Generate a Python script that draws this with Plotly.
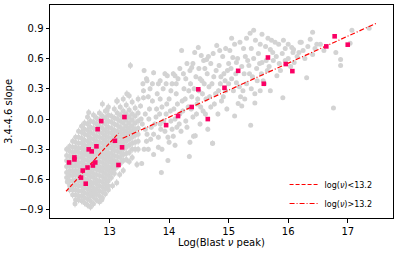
import plotly.graph_objects as go

# ---------------- data ----------------
# dense cloud at low peak frequency: (x, [y values]) columns
dense_cols = [
    (12.28, [-0.30, -0.36, -0.41, -0.47, -0.53, -0.58]),
    (12.33, [-0.27, -0.32, -0.37, -0.42, -0.46, -0.51, -0.56, -0.61, -0.66, -0.70]),
    (12.38, [-0.22, -0.28, -0.33, -0.38, -0.42, -0.47, -0.52, -0.56, -0.61, -0.66, -0.70, -0.75]),
    (12.43, [-0.18, -0.23, -0.28, -0.32, -0.37, -0.42, -0.46, -0.51, -0.55, -0.60, -0.65, -0.70, -0.75, -0.80]),
    (12.48, [-0.12, -0.18, -0.24, -0.29, -0.33, -0.38, -0.43, -0.47, -0.52, -0.56, -0.61, -0.66, -0.71, -0.76, -0.80]),
    (12.53, [-0.07, -0.13, -0.19, -0.24, -0.29, -0.34, -0.38, -0.43, -0.48, -0.52, -0.57, -0.62, -0.66, -0.71, -0.76, -0.81]),
    (12.58, [-0.04, -0.10, -0.15, -0.21, -0.26, -0.31, -0.35, -0.40, -0.45, -0.49, -0.54, -0.59, -0.63, -0.68, -0.73, -0.78, -0.83]),
    (12.63, [0.02, -0.05, -0.11, -0.16, -0.22, -0.27, -0.32, -0.36, -0.41, -0.46, -0.50, -0.55, -0.60, -0.64, -0.69, -0.74, -0.79, -0.85]),
    (12.68, [-0.02, -0.08, -0.13, -0.19, -0.24, -0.29, -0.34, -0.38, -0.43, -0.48, -0.52, -0.57, -0.62, -0.66, -0.71, -0.76, -0.81, -0.87]),
    (12.73, [0.04, -0.03, -0.09, -0.15, -0.20, -0.25, -0.30, -0.35, -0.40, -0.44, -0.49, -0.54, -0.58, -0.63, -0.68, -0.72, -0.77, -0.84]),
    (12.78, [0.01, -0.05, -0.11, -0.17, -0.22, -0.27, -0.32, -0.36, -0.41, -0.46, -0.50, -0.55, -0.60, -0.64, -0.69, -0.74, -0.80]),
    (12.83, [0.06, -0.01, -0.07, -0.13, -0.18, -0.23, -0.28, -0.33, -0.37, -0.42, -0.47, -0.51, -0.56, -0.61, -0.66, -0.71, -0.76, -0.82]),
    (12.88, [0.15, 0.03, -0.03, -0.09, -0.14, -0.19, -0.24, -0.29, -0.34, -0.38, -0.43, -0.48, -0.52, -0.57, -0.62, -0.67, -0.72, -0.78]),
    (12.93, [0.08, 0.01, -0.05, -0.11, -0.16, -0.21, -0.26, -0.31, -0.35, -0.40, -0.45, -0.49, -0.54, -0.59, -0.64, -0.69, -0.74]),
    (12.98, [0.12, 0.04, -0.02, -0.08, -0.13, -0.18, -0.23, -0.28, -0.33, -0.37, -0.42, -0.47, -0.51, -0.56, -0.61, -0.66, -0.70]),
    (13.03, [0.03, -0.03, -0.09, -0.14, -0.19, -0.24, -0.29, -0.34, -0.39, -0.43, -0.48, -0.53, -0.58]),
    (13.08, [0.10, 0.01, -0.05, -0.11, -0.16, -0.21, -0.26, -0.31, -0.36, -0.41, -0.45, -0.50, -0.54]),
    (13.13, [0.18, 0.06, 0.00, -0.06, -0.12, -0.17, -0.22, -0.27, -0.32, -0.37, -0.42, -0.47]),
    (13.18, [0.12, 0.04, -0.02, -0.08, -0.13, -0.18, -0.23, -0.28, -0.33, -0.38, -0.44]),
    (13.23, [0.20, 0.08, 0.02, -0.04, -0.10, -0.15, -0.20, -0.25, -0.30, -0.35, -0.41]),
    (13.28, [0.14, 0.05, -0.01, -0.07, -0.12, -0.17, -0.22, -0.28, -0.34, -0.40]),
    (13.33, [0.23, 0.09, 0.02, -0.04, -0.09, -0.14, -0.20, -0.26, -0.33, -0.42]),
    (13.38, [0.17, 0.05, -0.01, -0.07, -0.12, -0.18, -0.24, -0.30, -0.38]),
    (13.43, [0.11, 0.03, -0.04, -0.10, -0.16, -0.23, -0.30]),
    (13.48, [0.20, 0.06, -0.02, -0.09, -0.15, -0.22, -0.30]),
]
dense_extra = [(12.29, -0.62), (12.42, -0.84), (12.73, -0.74), (12.87, -0.80),
               (13.12, -0.63), (13.23, -0.51), (13.46, -0.45), (12.65, 0.065),
               (12.96, 0.09), (13.12, 0.18), (13.35, 0.53), (13.29, 0.25),
               (12.31, -0.53), (13.05, -0.66), (13.17, -0.55)]
dense_err = 0.035

mid_points = [
    (13.54, -0.44), (13.58, -0.30), (13.63, -0.15), (13.57, 0.28), (13.57, 0.21), (13.52, 0.13),
    (13.55, -0.05), (13.60, 0.05), (13.62, -0.22), (13.65, -0.30), (13.67, 0.10), (13.70, -0.08),
    (13.72, 0.18), (13.74, 0.46), (13.74, -0.15), (13.74, -0.35), (13.78, 0.02), (13.80, 0.25),
    (13.82, 0.35), (13.82, -0.18), (13.82, -0.28), (13.85, -0.05), (13.87, -0.53), (13.88, -0.30),
    (13.88, 0.12), (13.90, 0.30), (13.93, 0.45), (13.93, -0.12), (13.95, 0.05), (13.98, -0.18),
    (13.98, -0.41), (14.00, -0.23), (14.00, 0.20), (14.03, -0.02), (14.05, 0.35), (14.07, 0.45),
    (14.07, -0.17), (14.08, 0.10), (14.10, -0.26), (14.12, 0.25), (14.13, -0.08), (14.15, 0.40),
    (14.18, 0.05), (14.20, -0.12), (14.21, 0.68), (14.22, 0.18), (14.24, 0.45), (14.25, 0.30),
    (14.28, -0.02), (14.30, 0.55), (14.32, 0.12), (14.34, -0.37), (14.35, -0.23), (14.36, 0.35),
    (14.38, 0.22), (14.40, 0.02), (14.41, -0.17), (14.43, 0.66), (14.44, -0.165), (14.45, 0.42),
    (14.47, 0.15), (14.49, 0.71), (14.50, 0.28), (14.52, -0.05), (14.54, 0.63), (14.55, 0.38),
    (14.57, 0.08), (14.60, 0.50), (14.62, 0.20), (14.63, 0.59), (14.65, -0.10), (14.67, 0.32),
    (14.70, 0.55), (14.70, 0.12), (14.73, -0.24), (14.75, 0.42), (14.78, 0.25), (14.80, 0.73),
    (14.82, 0.05), (14.84, 0.53), (14.86, 0.35), (14.88, 0.18), (14.90, 0.62), (14.92, 0.45),
    (14.95, 0.28), (14.97, 0.10), (15.00, 0.55),
    (13.53, 0.00), (13.60, -0.10), (13.66, 0.00), (13.69, -0.20), (13.76, -0.05), (13.79, 0.10),
    (13.84, 0.05), (13.86, -0.10), (13.91, -0.02), (13.96, 0.15), (14.02, 0.08), (14.05, -0.10),
    (14.10, 0.00), (14.14, 0.15), (14.17, -0.05), (14.23, 0.08), (14.27, 0.20), (14.30, -0.08),
    (14.33, 0.28), (14.37, 0.10), (14.42, 0.30), (14.46, 0.05), (14.48, 0.20), (14.53, 0.12),
    (14.56, 0.25), (14.59, 0.35), (14.61, 0.05), (14.64, 0.45), (14.68, 0.22), (14.72, 0.35),
    (14.76, 0.15), (14.79, 0.48), (14.83, 0.28), (14.87, 0.42), (14.91, 0.22), (14.94, 0.38),
    (14.98, 0.48), (13.56, 0.35), (13.62, 0.40), (13.68, 0.30), (13.58, 0.48), (13.65, 0.22),
    (13.72, 0.35), (13.85, 0.20), (13.95, 0.35), (14.03, 0.28), (14.12, 0.35), (14.18, 0.50),
    (14.28, 0.40), (14.35, 0.48), (14.40, 0.55), (14.50, 0.50), (14.58, 0.58), (14.66, 0.62),
    (14.74, 0.65), (14.85, 0.68), (14.95, 0.70), (13.63, 0.38), (13.85, 0.38), (13.97, 0.43),
    (14.10, 0.43), (14.38, 0.51), (14.52, 0.40), (14.73, -0.24),
]
mid_err = 0.025

high_points = [
    (15.02, 0.68), (15.05, 0.40), (15.07, 0.61), (15.10, 0.74), (15.10, 0.03), (15.13, 0.56),
    (15.13, 0.36), (15.16, 0.155), (15.19, 0.76), (15.20, 0.22), (15.22, 0.13), (15.24, 0.28),
    (15.26, 0.45), (15.28, 0.62), (15.30, 0.35), (15.34, 0.53), (15.36, 0.85), (15.37, -0.06),
    (15.38, 0.70), (15.40, 0.42), (15.42, 0.88), (15.44, 0.25), (15.44, 0.16), (15.47, 0.50),
    (15.50, 0.65), (15.53, 0.74), (15.53, 0.28), (15.56, 0.84), (15.56, 0.56), (15.58, 0.38),
    (15.62, 0.72), (15.65, 0.48), (15.70, 0.69), (15.70, 0.28), (15.72, 0.78), (15.75, 0.58),
    (15.78, 0.76), (15.81, 0.43), (15.84, 0.74), (15.87, 0.48), (15.90, 0.65), (15.92, 0.78),
    (15.91, 0.21), (15.95, 0.70), (16.00, 0.74), (16.00, 0.60), (16.04, 0.52), (16.06, 0.71),
    (16.08, 0.66), (16.09, 0.69), (16.15, 0.62), (16.20, 0.76), (16.22, 0.76), (16.25, 0.68),
    (16.31, 0.41), (16.33, 0.72), (16.37, 0.79), (16.41, 0.86), (16.41, 0.64), (16.45, 0.70),
    (16.48, 0.74), (16.54, 0.74), (16.60, 0.68), (16.76, 0.11), (16.80, 0.66), (16.88, 0.59),
    (16.88, 0.53), (17.04, 0.75), (17.07, 0.88), (17.36, 0.90),
    (15.00, 0.35), (15.04, 0.50), (15.08, 0.28), (15.12, 0.45), (15.15, 0.60), (15.18, 0.32),
    (15.22, 0.52), (15.27, 0.20), (15.32, 0.58), (15.35, 0.45), (15.38, 0.30), (15.42, 0.60),
    (15.48, 0.38), (15.52, 0.55), (15.55, 0.45), (15.60, 0.35), (15.63, 0.58), (15.68, 0.52),
    (15.74, 0.66), (15.80, 0.62), (15.85, 0.55), (15.95, 0.58), (16.10, 0.56), (16.18, 0.66),
    (16.28, 0.60), (15.05, 0.80), (15.25, 0.70), (15.30, 0.80), (15.45, 0.78), (15.66, 0.80),
]
high_err = 0.015

# highlighted sources (pink squares)
pink_x = [12.32, 12.41, 12.41, 12.52, 12.55, 12.60, 12.63, 12.65, 12.70, 12.72, 12.76, 12.78,
          12.80, 12.86, 13.09, 13.15, 13.21, 13.25, 13.95, 14.15, 14.38, 14.49, 14.65, 14.93,
          15.16, 15.59, 15.66, 15.96, 16.07, 16.64, 16.78, 17.00]
pink_y = [-0.43, -0.38, -0.40, -0.58, -0.51, -0.64, -0.48, -0.30, -0.32, -0.46, -0.43, -0.27,
          -0.10, -0.02, -0.215, -0.455, -0.28, 0.02, -0.06, 0.03, 0.12, 0.295, 0.0, 0.31,
          0.478, 0.35, 0.61, 0.545, 0.475, 0.72, 0.82, 0.737]

# fitted relations
fit_low_x = [12.27, 13.15]
fit_low_y = [-0.715, -0.14]
fit_high_x = [13.22, 17.5]
fit_high_y = [-0.19, 0.955]

x_ticks = [13, 14, 15, 16, 17]
y_ticks = [-0.9, -0.6, -0.3, 0.0, 0.3, 0.6, 0.9]
y_ticktext = ["\u22120.9", "\u22120.6", "\u22120.3", "0.0", "0.3", "0.6", "0.9"]

# ---------------- assemble ----------------
gx, gy, ge = [], [], []
for cx, ys in dense_cols:
    for yv in ys:
        gx.append(cx); gy.append(yv); ge.append(dense_err)
for px_, py_ in dense_extra:
    gx.append(px_); gy.append(py_); ge.append(dense_err)
for px_, py_ in mid_points:
    gx.append(px_); gy.append(py_); ge.append(mid_err)
for px_, py_ in high_points:
    gx.append(px_); gy.append(py_); ge.append(high_err)

GREY = "#d3d3d3"
PINK = "#fa0064"
RED = "#ff0000"
FONT = "DejaVu Sans"

fig = go.Figure()
fig.add_trace(go.Scatter(
    x=gx, y=gy, mode="markers", showlegend=False,
    marker=dict(color=GREY, size=5, line=dict(width=0)),
    error_y=dict(type="data", array=ge, color=GREY, thickness=1, width=0),
))
fig.add_trace(go.Scatter(
    x=fit_low_x, y=fit_low_y, mode="lines", name="log(<i>ν</i>)&lt;13.2",
    line=dict(color=RED, width=1.2, dash="4px,2px"),
))
fig.add_trace(go.Scatter(
    x=fit_high_x, y=fit_high_y, mode="lines", name="log(<i>ν</i>)&gt;13.2",
    line=dict(color=RED, width=1.2, dash="5px,2px,1px,2px"),
))
fig.add_trace(go.Scatter(
    x=pink_x, y=pink_y, mode="markers", showlegend=False,
    marker=dict(color=PINK, size=4.6, symbol="square", line=dict(width=0)),
))

axis_common = dict(
    showgrid=False, zeroline=False, showline=True, linecolor="black", linewidth=1,
    mirror=True, ticks="outside", ticklen=3.5, tickwidth=1, tickcolor="black",
    tickfont=dict(family=FONT, size=10, color="black"),
)
fig.update_xaxes(range=[12.0, 17.76], tickvals=x_ticks, automargin=False, **axis_common)
fig.update_yaxes(range=[-0.98, 1.13], tickvals=y_ticks, ticktext=y_ticktext, automargin=False,
                 title=dict(text="3.4-4.6 slope", font=dict(family=FONT, size=10, color="black"), standoff=4),
                 **axis_common)
fig.add_annotation(text="Log(Blast <i>ν</i> peak)", xref="paper", yref="paper",
                   x=0.5, y=-0.115, xanchor="center", yanchor="middle", showarrow=False,
                   font=dict(family=FONT, size=10, color="black"))
fig.update_layout(
    width=399, height=254,
    margin=dict(l=50, r=6, t=5, b=36),
    paper_bgcolor="white", plot_bgcolor="white",
    font=dict(family=FONT, size=10, color="black"),
    legend=dict(x=0.955, y=0.0, xanchor="right", yanchor="bottom",
                bgcolor="rgba(255,255,255,0)", font=dict(family=FONT, size=8, color="black"),
                tracegroupgap=0, itemwidth=30),
)

fig.write_html("out.html", config={"displayModeBar": False},
               post_script="document.body.style.margin='0';document.body.style.overflow='hidden';")
